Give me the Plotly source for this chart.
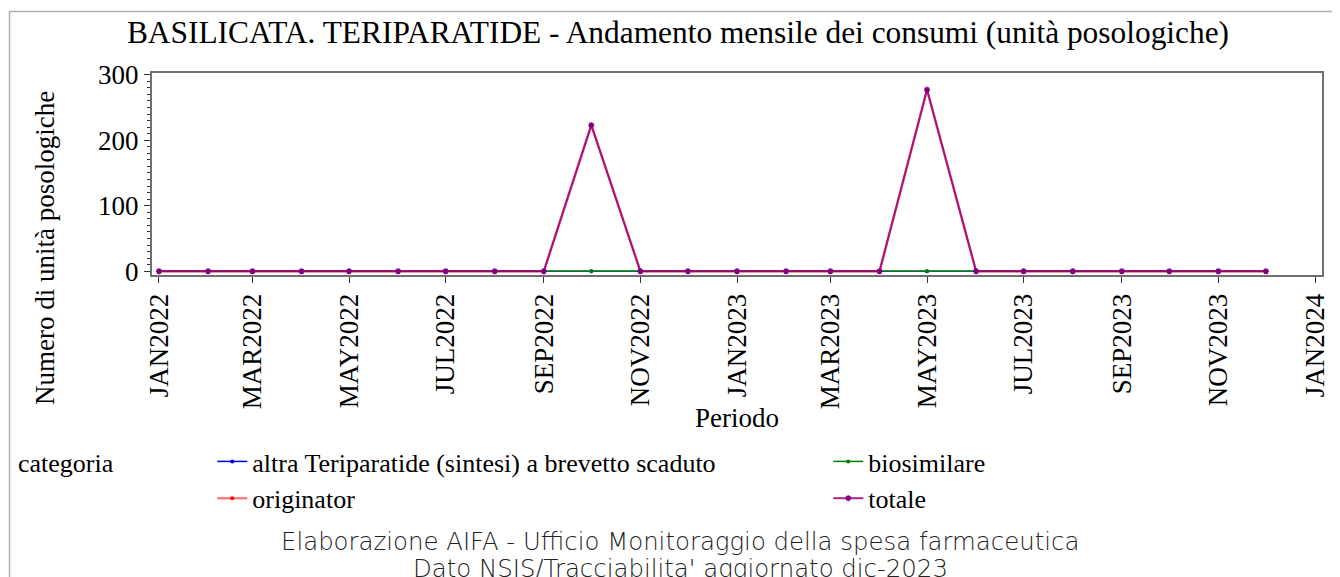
import plotly.graph_objects as go

months = ["2022-01-01","2022-02-01","2022-03-01","2022-04-01","2022-05-01","2022-06-01",
          "2022-07-01","2022-08-01","2022-09-01","2022-10-01","2022-11-01","2022-12-01",
          "2023-01-01","2023-02-01","2023-03-01","2023-04-01","2023-05-01","2023-06-01",
          "2023-07-01","2023-08-01","2023-09-01","2023-10-01","2023-11-01","2023-12-01"]
altra = [0]*24
biosimilare = [0]*24
originator = [0,0,0,0,0,0,0,0,0,223,0,0,0,0,0,0,277,0,0,0,0,0,0,0]
totale = [0,0,0,0,0,0,0,0,0,223,0,0,0,0,0,0,277,0,0,0,0,0,0,0]

tick_vals = ["2022-01-01","2022-03-01","2022-05-01","2022-07-01","2022-09-01","2022-11-01",
             "2023-01-01","2023-03-01","2023-05-01","2023-07-01","2023-09-01","2023-11-01","2024-01-01"]
tick_text = ["JAN2022","MAR2022","MAY2022","JUL2022","SEP2022","NOV2022",
             "JAN2023","MAR2023","MAY2023","JUL2023","SEP2023","NOV2023","JAN2024"]

SERIF = "Liberation Serif"
FS = 27
O = 8  # page body offset
W, H = 1340 - O, 577 - O
L, R, T, B = 152 - O, 18, 73 - O, 302
PW = W - L - R
PH = H - T - B


def px(x):
    return (x - O - L) / PW


def py(y):
    return (H - B - (y - O)) / PH


fig = go.Figure()
fig.add_trace(go.Scatter(x=months, y=altra, name="altra Teriparatide (sintesi) a brevetto scaduto",
                         mode="lines+markers", line=dict(color="#0000ff", width=1.5),
                         marker=dict(size=4, color="#0000ff"), legendrank=1))
fig.add_trace(go.Scatter(x=months, y=biosimilare, name="biosimilare",
                         mode="lines+markers", line=dict(color="#008000", width=1.5),
                         marker=dict(size=4, color="#008000"), legendrank=2))
fig.add_trace(go.Scatter(x=months, y=originator, name="originator",
                         mode="lines+markers", line=dict(color="rgba(255,0,0,0.5)", width=2.5),
                         marker=dict(size=4, color="#ff0000"), legendrank=3))
fig.add_trace(go.Scatter(x=months, y=totale, name="totale",
                         mode="lines+markers", line=dict(color="rgba(150,0,125,0.85)", width=2),
                         marker=dict(size=5, color="#800080", symbol="asterisk",
                                     line=dict(width=1.5, color="#800080")), legendrank=4))

fig.update_layout(
    width=W, height=H,
    margin=dict(l=L, r=R, t=T, b=B, autoexpand=False),
    paper_bgcolor="white", plot_bgcolor="white",
    font=dict(family=SERIF, size=FS, color="black"),
    title=dict(text="BASILICATA. TERIPARATIDE - Andamento mensile dei consumi (unità posologiche)",
               x=(678 - O) / W, xref="container", y=1 - (32 - O) / H, yref="container",
               xanchor="center", yanchor="middle", font=dict(family=SERIF, size=31.4)),
    xaxis=dict(type="date", range=["2021-12-27 14:00", "2024-01-05 10:00"],
               tickvals=tick_vals, ticktext=tick_text, tickangle=-90,
               ticks="outside", ticklen=6, tickcolor="#333", showgrid=False, zeroline=False,
               showline=True, linecolor="#707070", linewidth=2, mirror=True,
               tickfont=dict(family=SERIF, size=FS),
               title=dict(text="Periodo", font=dict(family=SERIF, size=FS), standoff=0)),
    yaxis=dict(range=[-5.7, 302.6], tickvals=[0, 100, 200, 300],
               ticks="outside", ticklen=6, tickcolor="#333", showgrid=False, zeroline=False,
               showline=True, linecolor="#707070", linewidth=2, mirror=True,
               tickfont=dict(family=SERIF, size=FS),
               minor=dict(dtick=10, tick0=0, ticks="outside", ticklen=3, tickcolor="#333")),
    legend=dict(orientation="h", x=px(16), xanchor="left", y=py(438), yanchor="top",
                title=dict(text="categoria" + "\u00a0" * 14, side="left",
                           font=dict(family=SERIF, size=26)),
                font=dict(family=SERIF, size=26), entrywidth=571, entrywidthmode="pixels",
                tracegroupgap=0, bgcolor="rgba(0,0,0,0)"),
    showlegend=True,
)

fig.add_annotation(text="Numero di unità posologiche", textangle=-90, xref="paper", yref="paper",
                   x=px(45), y=py(248), showarrow=False,
                   font=dict(family=SERIF, size=FS), xanchor="center", yanchor="middle")

FOOT = dict(family="DejaVu Sans", size=24.4, color="#222", weight=200)
fig.add_annotation(text="Elaborazione AIFA - Ufficio Monitoraggio della spesa farmaceutica",
                   xref="paper", yref="paper", x=px(680), y=py(541),
                   showarrow=False, font=FOOT, xanchor="center", yanchor="middle")
fig.add_annotation(text="Dato NSIS/Tracciabilita' aggiornato dic-2023",
                   xref="paper", yref="paper", x=px(680), y=py(568),
                   showarrow=False, font=FOOT, xanchor="center", yanchor="middle")

fig.add_shape(type="rect", xref="paper", yref="paper",
              x0=px(9.5), x1=px(1345), y0=py(600), y1=py(11.5),
              line=dict(color="#b0b0b0", width=1.5), layer="below")

fig.write_html("out.html")
